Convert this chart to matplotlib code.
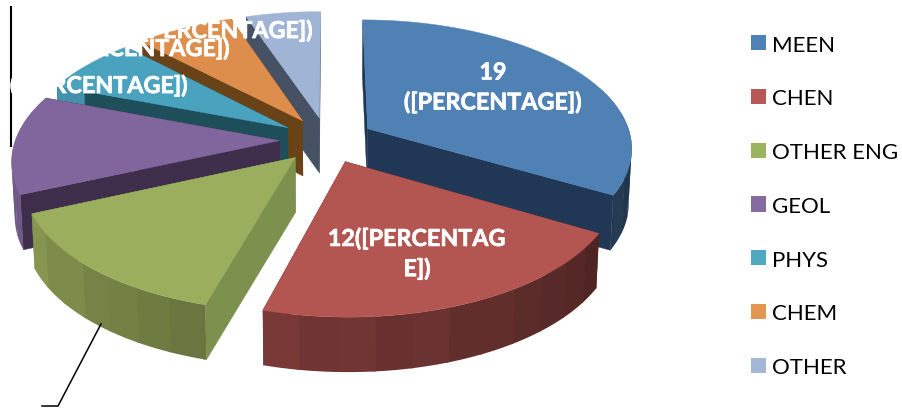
import numpy as np
import matplotlib
matplotlib.use("Agg")
import matplotlib.pyplot as plt
import matplotlib.patheffects as pe
from matplotlib.patches import Patch

categories = ["MEEN", "CHEN", "OTHER ENG", "GEOL", "PHYS", "CHEM", "OTHER"]
values = [19, 12, 8, 7, 4, 4, 3]
labels = ["19\n([PERCENTAGE])", "12([PERCENTAG\nE])", "", "",
          "([PERCENTAGE])", "([PERCENTAGE])", "([PERCENTAGE])"]

top_colors = ["#4f81b5", "#b35551", "#9bae5d", "#80669c", "#4aa3be", "#de8e4c", "#a0b4d6"]
legend_colors = ["#4f81b8", "#b85856", "#9bb35f", "#866ba0", "#4fa8c0", "#e29650", "#a4b7d8"]
wall_colors = ["#203755", "#54211f", "#7d914e", "#3e2e4c", "#1e4e5a", "#6a4218", "#465264"]

# projection of the tilted pie, in pixels
cx, cy = 327, 141
rx, ry = 264, 127
persp = 0.14
depth = 55
explode = 0.18
band_width = 7


def project(x, z, low=False):
    s = 1 / (1 + persp * z)
    px = rx * x * s
    py = -ry * z * s
    if low:
        return cx + px * 0.99, cy + py + depth
    return cx + px, cy + py


def arc_shade(band):
    shade = np.interp(band, [90, 120, 195, 246, 290, 360], [0.42, 0.45, 0.68, 0.88, 0.9, 0.9])
    return shade + 0.015 * np.sin(band * 1.3)


def darker(color, f):
    r, g, b = matplotlib.colors.to_rgb(color)
    return (min(r * f, 1), min(g * f, 1), min(b * f, 1))


fig = plt.figure(figsize=(9.02, 4.10), dpi=100)
ax = fig.add_axes([0, 0, 1, 1])
ax.set_xlim(0, 902)
ax.set_ylim(410, 0)
ax.axis("off")

# angles clockwise from 12 o'clock
edges = np.concatenate([[0], np.cumsum(values)]) / sum(values) * 360
draw_order = [6, 5, 4, 3, 0, 2, 1]

for i in draw_order:
    a0, a1 = edges[i], edges[i + 1]
    mid = np.radians((a0 + a1) / 2)
    ox, oz = explode * np.sin(mid), explode * np.cos(mid)
    deg = np.linspace(a0, a1, 80)
    th = np.radians(deg)
    xs, zs = ox + np.sin(th), oz + np.cos(th)

    # radial walls
    for t in [th[0], th[-1]]:
        x_pair = [ox, ox + np.sin(t)]
        z_pair = [oz, oz + np.cos(t)]
        up = [project(x, z) for x, z in zip(x_pair, z_pair)]
        lo = [project(x, z, True) for x, z in zip(x_pair, z_pair)]
        poly = np.array(up + lo[::-1])
        ax.fill(poly[:, 0], poly[:, 1], color=wall_colors[i], lw=0.3)

    # outer wall in bands, each one a single polygon so no seams show
    first = np.floor(a0 / band_width) * band_width
    for band in np.arange(first, a1, band_width):
        b0, b1 = max(band, a0), min(band + band_width + 0.5, a1)
        if np.cos(np.radians(b0)) > 0.45:
            continue
        t = np.radians(np.linspace(b0, b1, 8))
        bx, bz = ox + np.sin(t), oz + np.cos(t)
        up = [project(x, z) for x, z in zip(bx, bz)]
        lo = [project(x, z, True) for x, z in zip(bx, bz)]
        poly = np.array(up + lo[::-1])
        ax.fill(poly[:, 0], poly[:, 1], color=darker(top_colors[i], arc_shade(band)), lw=0)

    # top face
    outline = [project(ox, oz)] + [project(x, z) for x, z in zip(xs, zs)]
    poly = np.array(outline)
    ax.fill(poly[:, 0], poly[:, 1], color=top_colors[i], lw=0.3)

# leader lines
ax.plot([10.5, 10.5], [7, 148], color="black", lw=1.5, solid_capstyle="butt")
ax.plot([101, 58, 42], [325, 407, 407], color="black", lw=1.1)

label_pos = [(493, 89), (417, 255), None, None, (99, 87), (141, 50), (224, 32)]
for text, pos in zip(labels, label_pos):
    if pos is None:
        continue
    ax.text(pos[0], pos[1], text, color="white", fontsize=16.8, fontweight="bold",
            family="Lato", ha="center", va="center", linespacing=1.45,
            path_effects=[pe.withStroke(linewidth=0.5, foreground="white")])

handles = [Patch(facecolor=c, edgecolor="none") for c in legend_colors]
ax.legend(handles, categories, loc="upper left", bbox_to_anchor=(751 / 902, 1 - 35.5 / 410),
          frameon=False, prop={"family": "Lato", "size": 16}, handlelength=0.675,
          handleheight=0.675, handletextpad=0.27, labelspacing=1.52, borderpad=0,
          borderaxespad=0, labelcolor="black")

fig.savefig("out.png", dpi=100)
